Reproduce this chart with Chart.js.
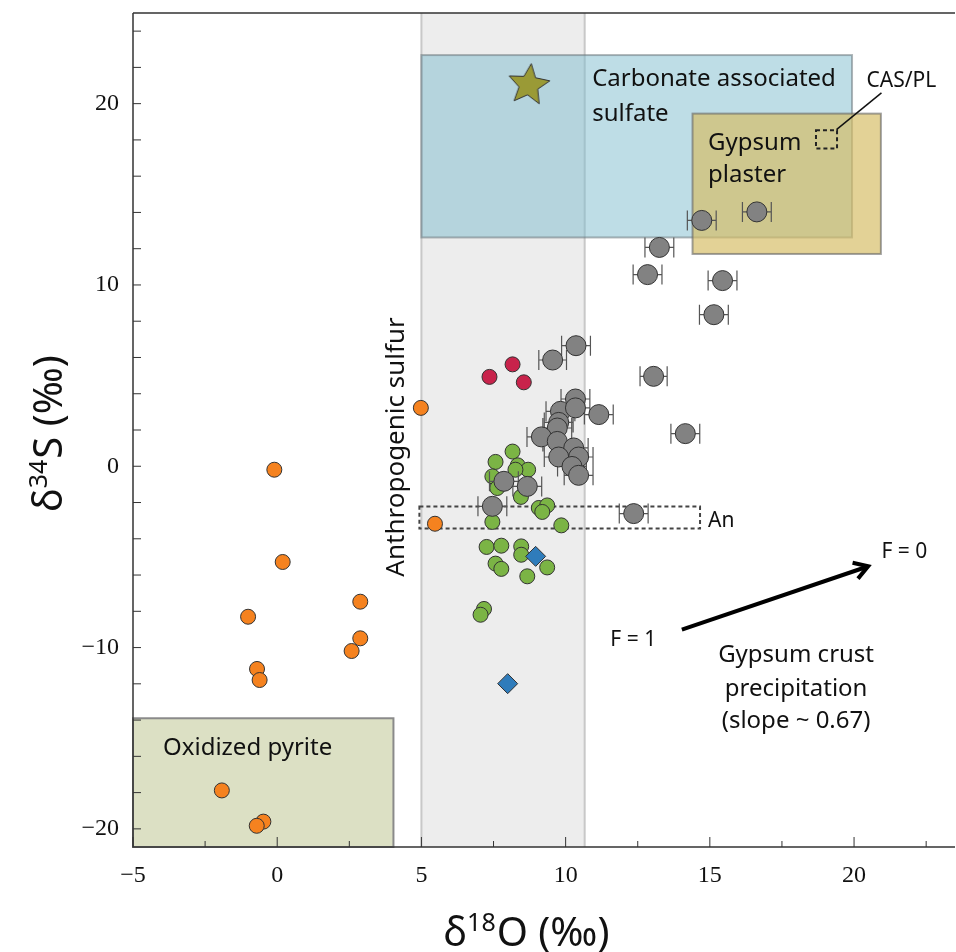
<!DOCTYPE html>
<html>
<head>
<meta charset="utf-8">
<script src="https://cdn.jsdelivr.net/npm/chart.js@4.4.0/dist/chart.umd.min.js"></script>
<style>
  html, body { margin: 0; padding: 0; background: #fff; }
  canvas { display: block; }
</style>
</head>
<body>
<canvas id="isoChart" width="956" height="952"></canvas>
<script>
// Valores (δ18O, δ34S)
const orangeX = [4.98, -0.10, 0.19, -1.01, 2.88, 2.88, 2.58, -0.70, -0.61, 5.47, -1.92, -0.48, -0.71];
const orangeY = [3.22, -0.19, -5.28, -8.30, -7.47, -9.49, -10.19, -11.18, -11.79, -3.17, -17.88, -19.60, -19.83];

const redX = [7.36, 8.16, 8.55];
const redY = [4.93, 5.62, 4.63];

const greenX = [8.16, 7.57, 8.34, 8.70, 7.46, 8.26, 7.63, 8.45, 9.07, 9.36, 9.19, 7.46, 9.85,
                7.26, 7.77, 8.46, 8.46, 7.57, 7.77, 9.36, 8.67, 7.17, 7.05];
const greenY = [0.81, 0.24, 0.05, -0.19, -0.56, -0.19, -1.20, -1.69, -2.30, -2.16, -2.52, -3.07, -3.26,
                -4.45, -4.38, -4.42, -4.88, -5.37, -5.66, -5.58, -6.07, -7.87, -8.19];

const grayX = [15.14, 10.36, 9.55, 13.05, 10.34, 9.82, 10.34, 11.15, 9.76, 9.71, 14.15, 9.16, 9.71,
               10.28, 9.76, 10.45, 10.22, 10.45, 7.86, 8.67, 7.46, 12.36, 14.72, 16.63, 13.25, 12.84, 15.44];
const grayY = [8.36, 6.65, 5.86, 4.96, 3.71, 3.03, 3.22, 2.85, 2.42, 2.11, 1.80, 1.62, 1.37,
               1.01, 0.51, 0.51, -0.01, -0.50, -0.83, -1.11, -2.21, -2.61, 13.56, 14.03, 12.07, 10.57, 10.24];
const grayErr = [0.5, 0.5, 0.48, 0.47, 0.5, 0.5, 0.5, 0.5, 0.5, 0.5, 0.5, 0.5, 0.5,
                 0.5, 0.5, 0.5, 0.5, 0.5, 0.5, 0.5, 0.5, 0.5, 0.5, 0.5, 0.5, 0.5, 0.5];

const blueX = [8.96, 7.99];
const blueY = [-4.97, -11.99];

const starX = [8.72];
const starY = [21.14];

// Marcas de los ejes
const xTicks = [-5, -2.5, 0, 2.5, 5, 7.5, 10, 12.5, 15, 17.5, 20, 22.5];
const yTicks = [-20, -18, -16, -14, -12, -10, -8, -6, -4, -2, 0, 2, 4, 6, 8, 10, 12, 14, 16, 18, 20, 22, 24];

// Campos de referencia [xMin, xMax, yTop, yBottom]
const anthroBand = [5.0, 10.66];
const casBox = [5.0, 19.93, 22.68, 12.62];
const gypsumBox = [14.4, 20.93, 19.45, 11.71];
const pyriteBox = [-5, 4.03, -13.9, -21];
const casPlBox = [18.68, 19.41, 18.53, 17.52];
const anBox = [4.93, 14.66, -2.22, -3.43];

// Flecha de precipitación (F = 1 -> F = 0)
const arrowFrom = [14.03, -9.01];
const arrowTo = [20.49, -5.52];

const SANS = '"Noto Sans", "Open Sans", sans-serif';
const SERIF = '"Liberation Serif", "DejaVu Serif", serif';

function toPts(xs, ys) {
    return xs.map((x, i) => ({ x: x, y: ys[i] }));
}

// Estrella rellena para el punto CAS
function makeStar(size, fill) {
    const c = document.createElement('canvas');
    c.width = size;
    c.height = size;
    const g = c.getContext('2d');
    const R = size / 2 - 1.5, r = R * 0.46, cx = size / 2, cy = size / 2 + 2;
    g.beginPath();
    for (let i = 0; i < 10; i++) {
        const a = -Math.PI / 2 + 0.12 + i * Math.PI / 5;
        const rad = i % 2 ? r : R;
        g.lineTo(cx + rad * Math.cos(a), cy + rad * Math.sin(a));
    }
    g.closePath();
    g.fillStyle = fill;
    g.fill();
    g.strokeStyle = '#333';
    g.lineWidth = 1;
    g.stroke();
    return c;
}

function minus(v) {
    return v < 0 ? '\u2212' + Math.abs(v) : String(v);
}

// Sin relleno extra de las etiquetas en los extremos
function noPadding(s) {
    s.paddingLeft = 0;
    s.paddingRight = 0;
    s.paddingTop = 0;
    s.paddingBottom = 0;
}

// Fondo: banda, cajas y textos de las cajas
const regionsPlugin = {
    id: 'regions',
    beforeDatasetsDraw(chart) {
        const { ctx, chartArea, scales: { x, y } } = chart;
        const rect = (b, fill, stroke, lw, dash) => {
            const x0 = x.getPixelForValue(b[0]), x1 = x.getPixelForValue(b[1]);
            const y0 = y.getPixelForValue(b[2]), y1 = y.getPixelForValue(b[3]);
            ctx.save();
            if (fill) {
                ctx.fillStyle = fill;
                ctx.fillRect(x0, y0, x1 - x0, y1 - y0);
            }
            if (stroke) {
                ctx.strokeStyle = stroke;
                ctx.lineWidth = lw;
                ctx.setLineDash(dash || []);
                ctx.strokeRect(x0, y0, x1 - x0, y1 - y0);
            }
            ctx.restore();
        };
        const text = (t, vx, vy, size, align) => {
            ctx.save();
            ctx.font = size + 'px ' + SANS;
            ctx.fillStyle = '#111';
            ctx.textAlign = align || 'left';
            ctx.textBaseline = 'alphabetic';
            ctx.fillText(t, x.getPixelForValue(vx), y.getPixelForValue(vy));
            ctx.restore();
        };

        // banda gris "Anthropogenic sulfur"
        const bx0 = x.getPixelForValue(anthroBand[0]), bx1 = x.getPixelForValue(anthroBand[1]);
        ctx.save();
        ctx.fillStyle = '#ededed';
        ctx.fillRect(bx0, chartArea.top, bx1 - bx0, chartArea.bottom - chartArea.top);
        ctx.strokeStyle = '#c8c8c8';
        ctx.lineWidth = 2;
        ctx.beginPath();
        ctx.moveTo(bx0, chartArea.top); ctx.lineTo(bx0, chartArea.bottom);
        ctx.moveTo(bx1, chartArea.top); ctx.lineTo(bx1, chartArea.bottom);
        ctx.stroke();
        ctx.restore();

        rect(pyriteBox, '#dce0c4', '#8a8a8a', 2);
        rect(casBox, 'rgba(125, 188, 206, 0.5)', 'rgba(110, 120, 125, 0.55)', 2);
        rect(gypsumBox, 'rgba(214, 188, 100, 0.68)', 'rgba(100, 100, 100, 0.6)', 2);
        rect(casPlBox, null, '#222', 2, [4, 3]);
        rect(anBox, null, '#444', 2, [4, 3]);

        text('Carbonate associated', 10.92, 20.95, 24);
        text('sulfate', 10.92, 19.03, 24);
        text('Gypsum', 14.94, 17.47, 24);
        text('plaster', 14.94, 15.66, 24);
        text('CAS/PL', 20.43, 20.93, 21);
        text('Oxidized pyrite', -3.96, -15.91, 24);
        text('An', 14.94, -3.33, 21);

        // línea guía CAS/PL
        ctx.save();
        ctx.strokeStyle = '#111';
        ctx.lineWidth = 1.5;
        ctx.beginPath();
        ctx.moveTo(x.getPixelForValue(20.95), y.getPixelForValue(20.59));
        ctx.lineTo(x.getPixelForValue(19.39), y.getPixelForValue(18.57));
        ctx.stroke();
        ctx.restore();

        // texto vertical
        ctx.save();
        ctx.translate(x.getPixelForValue(4.39), y.getPixelForValue(-6.09));
        ctx.rotate(-Math.PI / 2);
        ctx.font = '26px ' + SANS;
        ctx.fillStyle = '#111';
        ctx.textAlign = 'left';
        ctx.fillText('Anthropogenic sulfur', 0, 0);
        ctx.restore();

        // marco y marcas de los ejes (hacia adentro)
        ctx.save();
        ctx.strokeStyle = '#333';
        ctx.lineWidth = 1.5;
        ctx.beginPath();
        ctx.moveTo(chartArea.left, chartArea.top);
        ctx.lineTo(chartArea.left, chartArea.bottom);
        ctx.lineTo(chartArea.right, chartArea.bottom);
        ctx.moveTo(chartArea.left, chartArea.top);
        ctx.lineTo(chartArea.right, chartArea.top);
        ctx.stroke();
        ctx.lineWidth = 1;
        ctx.beginPath();
        x.ticks.forEach(t => {
            const p = x.getPixelForValue(t.value);
            const len = t.value % 5 === 0 ? 10 : 6;
            ctx.moveTo(p, chartArea.bottom);
            ctx.lineTo(p, chartArea.bottom - len);
        });
        y.ticks.forEach(t => {
            const p = y.getPixelForValue(t.value);
            ctx.moveTo(chartArea.left, p);
            ctx.lineTo(chartArea.left + 8, p);
        });
        ctx.stroke();
        ctx.restore();
    },
    beforeDatasetDraw(chart, args) {
        // barras de error horizontales de los puntos grises
        if (chart.data.datasets[args.index].label !== 'Gris') return;
        const { ctx, scales: { x, y } } = chart;
        ctx.save();
        ctx.strokeStyle = '#555';
        ctx.lineWidth = 1.2;
        ctx.beginPath();
        grayX.forEach((gx, i) => {
            const xl = x.getPixelForValue(gx - grayErr[i]);
            const xr = x.getPixelForValue(gx + grayErr[i]);
            const yp = y.getPixelForValue(grayY[i]);
            ctx.moveTo(xl, yp); ctx.lineTo(xr, yp);
            ctx.moveTo(xl, yp - 10); ctx.lineTo(xl, yp + 10);
            ctx.moveTo(xr, yp - 10); ctx.lineTo(xr, yp + 10);
        });
        ctx.stroke();
        ctx.restore();
    },
    afterDatasetsDraw(chart) {
        const { ctx, scales: { x, y } } = chart;
        const text = (t, vx, vy, size, align) => {
            ctx.save();
            ctx.font = size + 'px ' + SANS;
            ctx.fillStyle = '#111';
            ctx.textAlign = align || 'left';
            ctx.fillText(t, x.getPixelForValue(vx), y.getPixelForValue(vy));
            ctx.restore();
        };
        // flecha
        const x0 = x.getPixelForValue(arrowFrom[0]), y0 = y.getPixelForValue(arrowFrom[1]);
        const x1 = x.getPixelForValue(arrowTo[0]), y1 = y.getPixelForValue(arrowTo[1]);
        const ang = Math.atan2(y1 - y0, x1 - x0);
        ctx.save();
        ctx.strokeStyle = '#000';
        ctx.lineWidth = 4;
        ctx.lineCap = 'butt';
        ctx.beginPath();
        ctx.moveTo(x0, y0);
        ctx.lineTo(x1 - 2 * Math.cos(ang), y1 - 2 * Math.sin(ang));
        ctx.stroke();
        ctx.lineJoin = 'miter';
        ctx.beginPath();
        ctx.moveTo(x1 - 16 * Math.cos(ang - 0.55), y1 - 16 * Math.sin(ang - 0.55));
        ctx.lineTo(x1, y1);
        ctx.lineTo(x1 - 16 * Math.cos(ang + 0.55), y1 - 16 * Math.sin(ang + 0.55));
        ctx.stroke();
        ctx.restore();

        text('F = 1', 11.55, -9.9, 21);
        text('F = 0', 20.95, -5.06, 21);
        text('Gypsum crust', 17.99, -10.81, 24, 'center');
        text('precipitation', 17.99, -12.65, 24, 'center');
        text('(slope ~ 0.67)', 17.99, -14.41, 24, 'center');
    },
    afterDraw(chart) {
        // títulos de los ejes con superíndice
        const { ctx } = chart;
        const drawTitle = (pre, sup, post, cx, cy, rot) => {
            ctx.save();
            ctx.translate(cx, cy);
            ctx.rotate(rot);
            ctx.fillStyle = '#111';
            ctx.textBaseline = 'alphabetic';
            ctx.textAlign = 'left';
            const big = '40px ' + SANS, small = '25px ' + SANS;
            ctx.font = big;
            const w1 = ctx.measureText(pre).width, w3 = ctx.measureText(post).width;
            ctx.font = small;
            const w2 = ctx.measureText(sup).width;
            let cur = -(w1 + w2 + w3) / 2;
            ctx.font = big;
            ctx.fillText(pre, cur, 0);
            cur += w1;
            ctx.font = small;
            ctx.fillText(sup, cur, -15);
            cur += w2;
            ctx.font = big;
            ctx.fillText(post, cur + 1, 0);
            ctx.restore();
        };
        drawTitle('\u03b4', '18', 'O (\u2030)', 526, 946, 0);
        drawTitle('\u03b4', '34', 'S (\u2030)', 62, 434, -Math.PI / 2);
    }
};

const ctx = document.getElementById('isoChart').getContext('2d');
const chart = new Chart(ctx, {
    type: 'scatter',
    data: {
        datasets: [
            {
                label: 'CAS',
                data: toPts(starX, starY),
                pointStyle: makeStar(46, '#9a9a36'),
                order: 0
            },
            {
                label: 'Azul',
                data: toPts(blueX, blueY),
                pointStyle: 'rectRot',
                pointRadius: 10,
                backgroundColor: '#2f7cbb',
                borderColor: '#333',
                borderWidth: 1,
                order: 1
            },
            {
                label: 'Rojo',
                data: toPts(redX, redY),
                pointRadius: 7.5,
                backgroundColor: '#c8234b',
                borderColor: '#333',
                borderWidth: 1,
                order: 2
            },
            {
                label: 'Gris',
                data: toPts(grayX, grayY),
                pointRadius: 10,
                backgroundColor: '#828282',
                borderColor: '#333',
                borderWidth: 1,
                order: 3
            },
            {
                label: 'Verde',
                data: toPts(greenX, greenY),
                pointRadius: 7.5,
                backgroundColor: '#7bb445',
                borderColor: '#333',
                borderWidth: 1,
                order: 4
            },
            {
                label: 'Naranja',
                data: toPts(orangeX, orangeY),
                pointRadius: 7.5,
                backgroundColor: '#f5821f',
                borderColor: '#333',
                borderWidth: 1,
                order: 5
            }
        ]
    },
    options: {
        responsive: false,
        animation: false,
        devicePixelRatio: 1,
        layout: { autoPadding: false, padding: { top: 13, right: 1, left: 0, bottom: 0 } },
        plugins: {
            legend: { display: false },
            tooltip: { enabled: false }
        },
        scales: {
            x: {
                type: 'linear',
                min: -5,
                max: 23.5,
                grid: { display: false, drawTicks: false },
                border: { display: false },
                ticks: {
                    padding: 14,
                    color: '#111',
                    font: { family: SERIF, size: 24 },
                    maxRotation: 0,
                    autoSkip: false,
                    callback: v => (v % 5 === 0 ? minus(v) : '')
                },
                afterBuildTicks: s => { s.ticks = xTicks.map(v => ({ value: v })); },
                afterFit: s => {
                    s.height = 105;
                    noPadding(s);
                }
            },
            y: {
                type: 'linear',
                min: -21,
                max: 25,
                grid: { display: false, drawTicks: false },
                border: { display: false },
                ticks: {
                    padding: 14,
                    color: '#111',
                    font: { family: SERIF, size: 24 },
                    autoSkip: false,
                    callback: v => (v % 10 === 0 ? minus(v) : '')
                },
                afterBuildTicks: s => { s.ticks = yTicks.map(v => ({ value: v })); },
                afterFit: s => {
                    s.width = 133;
                    noPadding(s);
                }
            }
        }
    },
    plugins: [regionsPlugin]
});
</script>
</body>
</html>
